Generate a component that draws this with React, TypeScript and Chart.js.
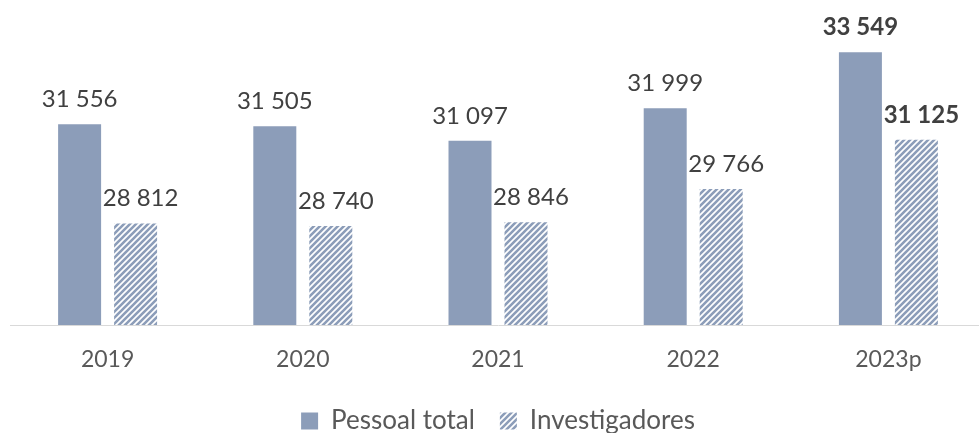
import React, { useEffect, useRef } from "react";
import { Chart, registerables } from "chart.js";

Chart.register(...registerables);

const categories = ["2019", "2020", "2021", "2022", "2023p"];
const pessoalTotal = [31556, 31505, 31097, 31999, 33549];
const investigadores = [28812, 28740, 28846, 29766, 31125];
const seriesNames = ["Pessoal total", "Investigadores"];
const yMin = 26000;
const yMax = 34000;
const boldIndex = 4;

const SOLID = "#8c9db9";
const TEXT = "#404040";
const TICK = "#595959";

function fmt(v: number): string {
  return String(v).replace(/\B(?=(\d{3})+(?!\d))/g, " ");
}

function makeHatch(): CanvasPattern | string {
  const size = 6;
  const c = document.createElement("canvas");
  c.width = size;
  c.height = size;
  const g = c.getContext("2d");
  if (!g) return SOLID;
  g.fillStyle = "#ffffff";
  g.fillRect(0, 0, size, size);
  g.strokeStyle = SOLID;
  g.lineWidth = 2.6;
  g.lineCap = "square";
  for (let k = -1; k <= 1; k++) {
    g.beginPath();
    g.moveTo(k * size - 1, size + 1);
    g.lineTo(k * size + size + 1, -1);
    g.stroke();
  }
  const p = g.createPattern(c, "repeat");
  return p || SOLID;
}

const labelPlugin = {
  id: "barLabels",
  afterDatasetsDraw(chart: any) {
    const ctx = chart.ctx;
    ctx.save();
    ctx.textAlign = "center";
    ctx.textBaseline = "alphabetic";
    ctx.fillStyle = TEXT;
    chart.data.datasets.forEach((ds: any, di: number) => {
      const meta = chart.getDatasetMeta(di);
      meta.data.forEach((el: any, i: number) => {
        const bold = i === boldIndex;
        ctx.font = `${bold ? "bold " : ""}24px Lato`;
        const dx = di === 1 ? 5 : 0;
        ctx.fillText(fmt(ds.data[i]), el.x + dx, el.y - 17);
      });
    });
    ctx.restore();
  },
};

export default function App() {
  const ref = useRef<HTMLCanvasElement | null>(null);

  useEffect(() => {
    let chart: Chart | null = null;
    let cancelled = false;
    const build = () => {
      if (cancelled || !ref.current) return;
      const hatch = makeHatch();
      chart = new Chart(ref.current, {
        type: "bar",
        data: {
          labels: categories,
          datasets: [
            {
              label: seriesNames[0],
              data: pessoalTotal,
              backgroundColor: SOLID,
              borderWidth: 0,
              categoryPercentage: 0.5736,
              barPercentage: 0.768,
            },
            {
              label: seriesNames[1],
              data: investigadores,
              backgroundColor: hatch as any,
              borderWidth: 0,
              categoryPercentage: 0.5736,
              barPercentage: 0.768,
            },
          ],
        },
        options: {
          animation: false,
          responsive: false,
          maintainAspectRatio: false,
          devicePixelRatio: 1,
          layout: { padding: { top: 36, left: 10, right: 2, bottom: 0 } },
          plugins: {
            legend: {
              display: true,
              position: "bottom",
              labels: {
                boxWidth: 17,
                boxHeight: 17,
                padding: 25,
                color: TICK,
                font: { family: "Lato", size: 26 },
              },
            },
            tooltip: { enabled: false },
          },
          scales: {
            x: {
              grid: { display: false, drawTicks: false },
              border: { display: true, color: "#d9d9d9", width: 1 },
              ticks: {
                color: TICK,
                padding: 21,
                font: { family: "Lato", size: 23 },
              },
              afterFit: (s: any) => {
                s.height = 58;
              },
            },
            y: {
              display: false,
              min: yMin,
              max: yMax,
            },
          },
        },
        plugins: [labelPlugin],
      });
    };
    const fonts: any = (document as any).fonts;
    if (fonts && fonts.load) {
      Promise.all([
        fonts.load("24px Lato"),
        fonts.load("bold 24px Lato"),
      ])
        .catch(() => {})
        .then(build);
    } else {
      build();
    }
    return () => {
      cancelled = true;
      if (chart) chart.destroy();
    };
  }, []);

  return (
    <div
      style={{
        position: "fixed",
        left: 0,
        top: 0,
        width: 988,
        height: 444,
        background: "#ffffff",
      }}
    >
      <canvas ref={ref} width={988} height={444} style={{ display: "block" }} />
    </div>
  );
}
